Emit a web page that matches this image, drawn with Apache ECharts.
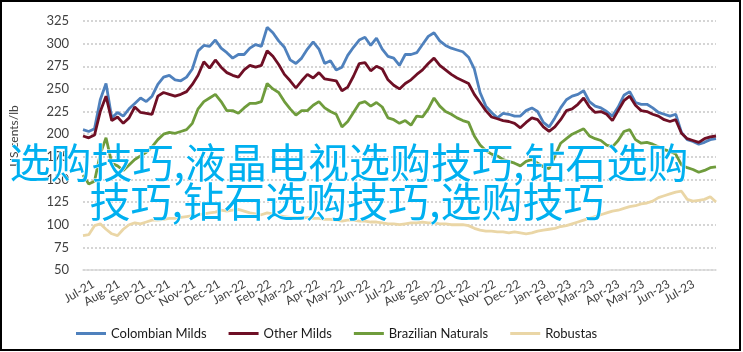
<!DOCTYPE html>
<html><head><meta charset="utf-8">
<script src="https://cdn.jsdelivr.net/npm/echarts@6/dist/echarts.min.js"></script>
<style>html,body{margin:0;padding:0;background:#fff}#c{width:743px;height:352px}</style>
</head><body><div id="c"></div>
<script>
// weekly observations starting 2021-07-01
const START_DATE = '2021-07-01';
const STEP_DAYS = 7;
const seriesNames = ['Colombian Milds', 'Other Milds', 'Brazilian Naturals', 'Robustas'];
const colombianMilds = [205,203,206,238,256,218,224,220,228,234,240,236,242,255,263,265,260,259,263,272,292,298,297,304,295,290,284,288,
  288,295,299,297,318,312,303,296,282,278,284,294,302,294,278,281,271,274,287,296,304,307,298,306,294,286,284,276,
  288,288,290,299,308,312,303,298,295,293,291,285,272,246,231,224,218,223,222,220,220,226,229,225,213,208,218,229,
  238,242,244,248,236,231,229,225,220,230,243,247,235,233,233,229,224,222,220,222,202,194,192,189,191,194,195];
const otherMilds = [198,196,199,225,242,215,219,212,218,230,224,223,222,242,246,244,242,244,247,255,265,280,273,282,274,268,265,263,
  271,276,274,276,292,286,277,266,259,251,259,266,262,268,261,260,259,248,252,264,278,279,270,275,272,260,254,250,
  256,260,266,271,278,284,276,271,266,262,259,256,244,235,226,219,217,215,214,212,207,213,218,216,208,203,208,216,
  226,228,233,240,230,224,225,222,215,226,237,242,232,226,225,222,220,216,214,216,201,195,193,191,195,197,198];
const brazilianNaturals = [155,145,148,178,196,168,165,160,166,172,176,180,186,194,200,202,201,203,205,212,228,236,240,244,236,226,226,223,
  229,234,234,236,256,250,246,236,228,221,226,226,232,236,229,225,222,208,214,224,234,236,231,235,230,218,216,212,
  215,210,220,219,228,240,231,225,222,218,215,213,198,188,182,178,176,172,170,168,165,170,172,168,164,162,176,190,
  195,200,203,206,198,195,193,188,186,193,203,205,194,190,191,189,186,183,181,178,166,163,161,158,160,163,164];
const robustas = [88,89,99,101,95,90,88,95,100,102,101,103,105,105,106,107,107,108,109,110,111,112,113,114,116,115,116,117,
  115,113,112,111,113,112,110,109,108,108,107,108,107,107,106,106,105,104,105,105,104,104,103,103,102,101,101,100,
  101,102,102,103,102,102,101,101,100,100,100,99,96,94,93,93,92,92,91,92,91,90,91,93,94,95,96,98,
  99,101,103,105,107,109,111,113,115,116,118,120,121,123,124,126,130,132,134,136,137,128,126,127,128,131,125];
const xTickLabels = ['Jul-21','Aug-21','Sep-21','Oct-21','Nov-21','Dec-21','Jan-22','Feb-22','Mar-22','Apr-22','May-22','Jun-22',
  'Jul-22','Aug-22','Sep-22','Oct-22','Nov-22','Dec-22','Jan-23','Feb-23','Mar-23','Apr-23','May-23','Jun-23','Jul-23'];
const seriesColors = ['#4f81bd', '#6e0f25', '#6f9c3c', '#ead6a6'];
const yTicks = {min: 50, max: 325, step: 25};
const overlayLines = ['选购技巧,液晶电视选购技巧,钻石选购', '技巧,钻石选购技巧,选购技巧'];
const monthNames = ['Jan','Feb','Mar','Apr','May','Jun','Jul','Aug','Sep','Oct','Nov','Dec'];

const DAY = 86400000;
const LABEL_SHIFT_DAYS = 9; // rotated labels sit slightly right of their month tick, as in the source
const t0 = new Date(START_DATE + 'T00:00:00').getTime();
function pairs(arr){ return arr.map((v,i)=>[t0 + i*STEP_DAYS*DAY, v]); }
const allData = [colombianMilds, otherMilds, brazilianNaturals, robustas];
const tMax = t0 + (colombianMilds.length-1)*STEP_DAYS*DAY;
function monthLabel(v){
  const d = new Date(v);
  const s = monthNames[d.getMonth()] + '-' + String(d.getFullYear()).slice(2);
  return xTickLabels.indexOf(s) >= 0 ? s : '';
}

const chart = echarts.init(document.getElementById('c'), null, {renderer:'canvas'});
chart.setOption({
  animation: false,
  grid: {left: 79, right: 27, top: 21, bottom: 82},
  xAxis: [{
    type: 'time', min: t0, max: tMax, position: 'bottom',
    axisLine: {lineStyle: {color: '#d9d9d9', width: 1.5}},
    axisTick: {show: false}, splitLine: {show: false}, axisLabel: {show: false}
  }, {
    // label-only axis: month labels placed as in the source (a few days right of the tick)
    type: 'time', min: t0 - LABEL_SHIFT_DAYS*DAY, max: tMax - LABEL_SHIFT_DAYS*DAY, position: 'bottom',
    splitNumber: 25, minInterval: 28*DAY, maxInterval: 31*DAY,
    axisLine: {show: false}, axisTick: {show: false}, splitLine: {show: false},
    axisLabel: {rotate: 30, fontSize: 12, color: '#404040', fontFamily: 'Lato', margin: 8, hideOverlap: false,
      verticalAlign: 'top', formatter: function(v){ return monthLabel(v); }}
  }],
  yAxis: {
    type: 'value', min: yTicks.min, max: yTicks.max, interval: yTicks.step,
    name: 'US cents/lb', nameLocation: 'middle', nameGap: 63,
    nameTextStyle: {fontSize: 12, color: '#404040', fontFamily: 'Lato', padding: [0, 0, 0, 19]},
    axisLine: {show: false}, axisTick: {show: false},
    axisLabel: {fontSize: 13, color: '#404040', fontFamily: 'Lato', margin: 14},
    splitLine: {lineStyle: {type: [2,2], color: '#c8c8c8', width: 1.5}}
  },
  legend: {top: 322, left: 71, icon: 'rect', itemWidth: 30, itemHeight: 3, itemGap: 22,
    textStyle: {fontSize: 13, fontFamily: 'Lato', color: '#1a1a1a'}},
  series: seriesNames.map((n,i)=>({
    name: n, type: 'line', xAxisIndex: 0, data: pairs(allData[i]), showSymbol: false, symbol: 'none',
    lineStyle: {width: 2.8, color: seriesColors[i]}, itemStyle: {color: seriesColors[i]}, z: 2
  })),
  graphic: [
    {type: 'rect', shape: {x: 1, y: 1, width: 739, height: 349}, style: {fill: 'none', stroke: '#000', lineWidth: 2}, z: 100},
    {type: 'text', x: 349, y: 162, z: 100, style: {text: overlayLines[0], font: '41px "Noto Sans CJK SC"', fill: '#00b0f0', align: 'center', verticalAlign: 'middle', stroke: '#fff', lineWidth: 1}},
    {type: 'text', x: 347, y: 201, z: 100, style: {text: overlayLines[1], font: '41px "Noto Sans CJK SC"', fill: '#00b0f0', align: 'center', verticalAlign: 'middle', stroke: '#fff', lineWidth: 1}}
  ]
});
</script></body></html>
